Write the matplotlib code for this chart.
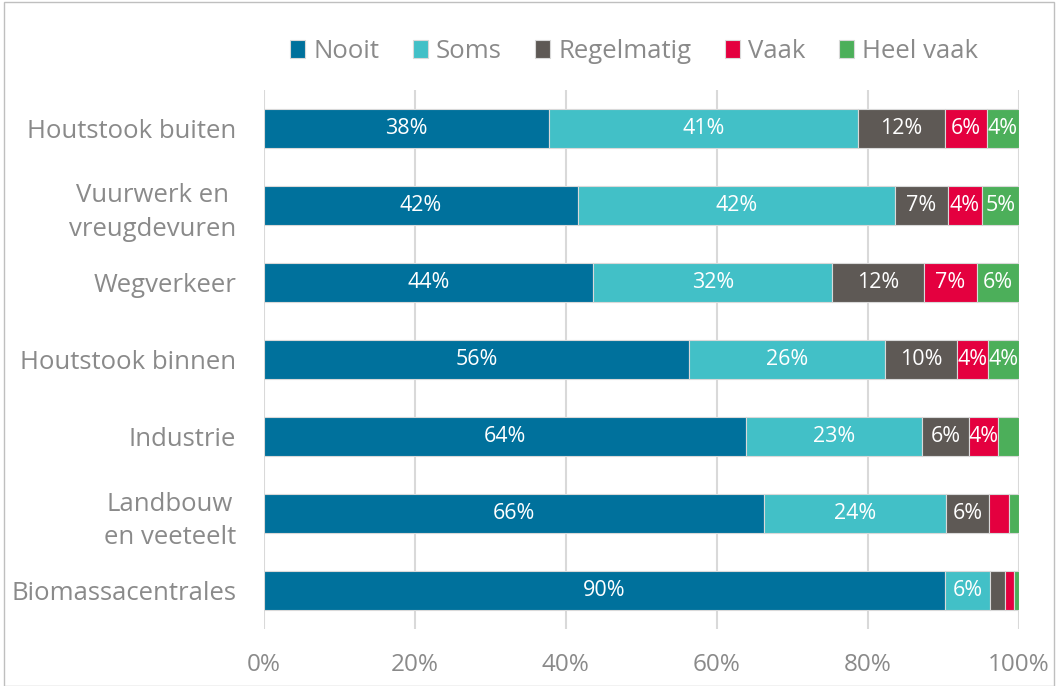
import numpy as np
import matplotlib.pyplot as plt
from matplotlib.patches import Rectangle

# Data
categories = ["Houtstook buiten", "Vuurwerk en\nvreugdevuren", "Wegverkeer", "Houtstook binnen",
              "Industrie", "Landbouw\nen veeteelt", "Biomassacentrales"]
series = ["Nooit", "Soms", "Regelmatig", "Vaak", "Heel vaak"]
nooit = [37.8, 41.6, 43.6, 56.3, 63.8, 66.2, 90.2]
soms = [40.9, 42.0, 31.7, 26.0, 23.4, 24.2, 6.0]
regelmatig = [11.5, 7.0, 12.2, 9.5, 6.2, 5.7, 2.0]
vaak = [5.6, 4.5, 6.9, 4.1, 3.8, 2.6, 1.1]
heel_vaak = [4.2, 4.9, 5.6, 4.1, 2.8, 1.3, 0.7]
colors = ["#00719c", "#42c0c7", "#5e5955", "#e4003f", "#4caf5a"]

plt.rcParams['font.family'] = ['Open Sans', 'DejaVu Sans']
grey = "#8a8a8a"

fig = plt.figure(figsize=(10.58, 6.86), dpi=100)
ax = fig.add_axes([0.2495, 0.083, 0.7135, 0.786])

y = np.arange(len(categories))
left = np.zeros(len(categories))
for name, vals, col in zip(series, [nooit, soms, regelmatig, vaak, heel_vaak], colors):
    vals = np.array(vals)
    bars = ax.barh(y, vals, left=left, height=0.5, color=col, label=name,
                   edgecolor="#d9d9d9", linewidth=0.8, zorder=3)
    for b, v in zip(bars, vals):
        if v >= 3.5:
            ax.text(b.get_x() + b.get_width() / 2, b.get_y() + b.get_height() / 2,
                    f"{round(v):.0f}%", ha="center", va="center", color="white",
                    fontsize=15.5, zorder=4)
    left += vals

ax.set_ylim(len(categories) - 0.5, -0.5)
ax.set_xlim(0, 100)
ax.set_xticks(np.arange(0, 101, 20))
ax.set_xticklabels([f"{t}%" for t in range(0, 101, 20)])
ax.set_yticks(y)
ax.set_yticklabels(categories, ha="right", multialignment="center", linespacing=1.45)
ax.tick_params(axis="y", length=0, pad=20, labelsize=18.5, labelcolor=grey)
ax.tick_params(axis="x", length=0, pad=17, labelsize=17.5, labelcolor=grey)
ax.grid(axis="x", color="#d9d9d9", linewidth=1.5, zorder=0)
for s in ax.spines.values():
    s.set_visible(False)

leg = ax.legend(loc="lower center", bbox_to_anchor=(0.49, 1.0), ncol=5, frameon=False,
                fontsize=18.5, handlelength=0.6, handleheight=0.7, handletextpad=0.3,
                columnspacing=1.3, labelcolor=grey, borderaxespad=0.6)

fig.patches.append(Rectangle((0.004, 0.0), 0.992, 0.997, transform=fig.transFigure,
                             fill=False, edgecolor="#bfbfbf", linewidth=1))

fig.savefig("out.png", dpi=100)
